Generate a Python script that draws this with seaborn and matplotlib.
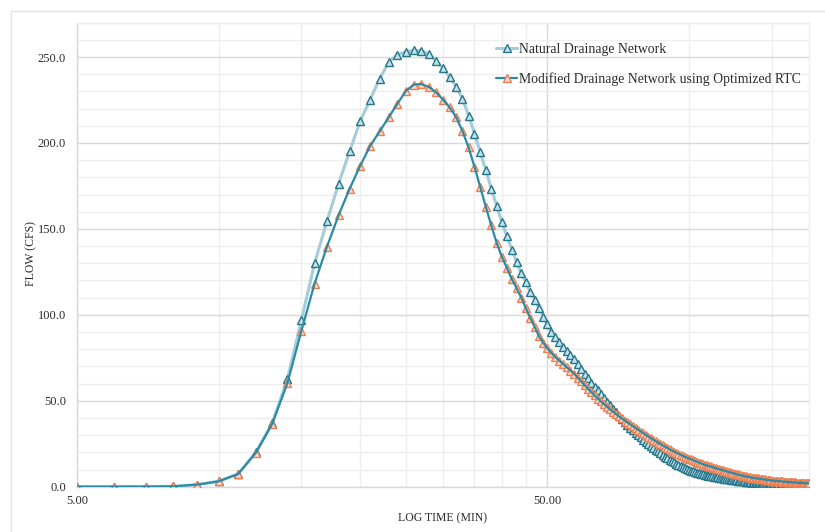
import numpy as np
import matplotlib
matplotlib.use("Agg")
import matplotlib.pyplot as plt
import seaborn as sns
from matplotlib.lines import Line2D
from matplotlib.patches import Rectangle
from matplotlib.ticker import FixedLocator, NullFormatter

# ============================================
# Data (1-minute steps)
# ============================================
minutes = list(range(5, 181))

natural = [
    0.0, 0.0, 0.05, 0.2, 1.2, 3.2, 7.5, 20.0, 37.0, 62.5,            # 5-14
    97.0, 130.0, 154.5, 176.4, 195.3, 212.6, 225.3, 237.4, 247.0, 251.3,  # 15-24
    253.1, 253.9, 253.7, 251.7, 247.9, 243.4, 238.2, 232.8, 225.8, 216.0,  # 25-34
    205.5, 194.5, 184.1, 173.5, 163.5, 154.1, 146.0, 138.0, 130.5, 124.1,  # 35-44
    118.9, 113.4, 108.6, 103.7, 98.9, 94.4, 90.0, 87.0, 84.0, 81.2,        # 45-54
    78.8, 76.6, 74.3, 71.4, 68.5, 65.4, 63.0, 60.6, 58.3, 56.0,            # 55-64
    53.7, 51.5, 49.4, 47.3, 45.3, 43.3, 41.3, 39.4, 37.6, 35.9,            # 65-74
    34.3, 32.8, 31.4, 30.0, 28.7, 27.4, 26.1, 24.9, 23.7, 22.6,            # 75-84
    21.5, 20.5, 19.4, 18.4, 17.5, 16.6, 15.7, 14.9, 14.1, 13.4,            # 85-94
    12.7, 12.0, 11.4, 10.8, 10.3, 9.8, 9.4, 9.0, 8.6, 8.2,                 # 95-104
    7.8, 7.5, 7.2, 6.9, 6.6, 6.4, 6.2, 6.0, 5.8, 5.6,                      # 105-114
    5.4, 5.2, 5.0, 4.85, 4.7, 4.55, 4.4, 4.25, 4.1, 4.0,                   # 115-124
    3.85, 3.7, 3.6, 3.5, 3.35, 3.2, 3.05, 2.9, 2.8, 2.65,                  # 125-134
    2.55, 2.4, 2.3, 2.2, 2.1, 2.05, 2.0, 1.95, 1.9, 1.85,                  # 135-144
    1.8, 1.7, 1.65, 1.6, 1.5, 1.45, 1.4, 1.35, 1.3, 1.25,                  # 145-154
    1.2, 1.15, 1.1, 1.05, 1.0, 0.97, 0.93, 0.9, 0.86, 0.83,                # 155-164
    0.8, 0.77, 0.74, 0.71, 0.68, 0.65, 0.62, 0.59, 0.56, 0.53,             # 165-174
    0.5, 0.47, 0.44, 0.41, 0.38, 0.35,                                     # 175-180
]

modified = [
    0.0, 0.0, 0.05, 0.2, 1.2, 3.1, 7.3, 19.7, 36.5, 60.1,             # 5-14
    90.7, 118.2, 139.7, 158.0, 173.5, 186.7, 198.3, 206.8, 214.9, 222.9,  # 15-24
    230.2, 234.0, 234.3, 232.6, 229.5, 225.2, 220.7, 215.0, 206.9, 197.4,  # 25-34
    186.2, 174.3, 162.8, 152.0, 142.0, 133.9, 127.5, 120.9, 115.6, 110.0,  # 35-44
    104.0, 98.0, 93.0, 87.5, 83.8, 80.5, 77.8, 75.4, 73.4, 71.4,           # 45-54
    69.5, 67.6, 65.7, 63.5, 61.3, 59.1, 57.0, 55.0, 53.1, 51.3,            # 55-64
    49.6, 48.0, 46.5, 45.0, 43.6, 42.2, 40.9, 39.7, 38.5, 37.4,            # 65-74
    36.3, 35.2, 34.1, 33.1, 32.1, 31.1, 30.1, 29.1, 28.2, 27.3,            # 75-84
    26.4, 25.6, 24.8, 24.0, 23.2, 22.5, 21.8, 21.0, 20.4, 19.8,            # 85-94
    19.2, 18.6, 18.0, 17.4, 16.9, 16.4, 15.9, 15.4, 15.0, 14.5,            # 95-104
    14.0, 13.6, 13.2, 12.8, 12.4, 12.1, 11.8, 11.5, 11.1, 10.8,            # 105-114
    10.5, 10.2, 9.9, 9.6, 9.3, 9.0, 8.7, 8.4, 8.2, 7.9,                    # 115-124
    7.6, 7.3, 7.1, 6.8, 6.6, 6.4, 6.2, 6.0, 5.8, 5.6,                      # 125-134
    5.4, 5.3, 5.1, 5.0, 4.9, 4.8, 4.7, 4.55, 4.4, 4.3,                     # 135-144
    4.2, 4.05, 3.9, 3.8, 3.7, 3.6, 3.5, 3.45, 3.4, 3.3,                    # 145-154
    3.25, 3.2, 3.1, 3.05, 3.0, 2.9, 2.85, 2.8, 2.7, 2.65,                  # 155-164
    2.6, 2.55, 2.5, 2.45, 2.4, 2.35, 2.3, 2.25, 2.2, 2.15,                 # 165-174
    2.1, 2.05, 2.0, 2.0, 1.95, 1.9,                                        # 175-180
]

labels = ["Natural Drainage Network", "Modified Drainage Network using Optimized RTC"]
x_major = [5, 50]
x_major_labels = ["5.00", "50.00"]
x_minor = [10, 15, 20, 25, 30, 35, 40, 45, 100, 150]

# ============================================
# Style
# ============================================
sns.set_theme(style="white")
plt.rcParams["font.family"] = ["Liberation Serif", "DejaVu Serif"]

nat_line = "#a3cdd8"
nat_edge = "#25768c"
nat_face = "#c4e1e8"
mod_line = "#2a8ba7"
mod_edge = "#ec7e50"
mod_face = "#fbd6c5"
major_grid = "#d9d9d9"
minor_grid = "#eeeeee"
text_col = "#2b2b2b"
msize = 5.6

fig = plt.figure(figsize=(8.25, 5.32), dpi=100)
ax = fig.add_axes([77 / 825, 1 - 486.7 / 532, (809 - 77) / 825, (486.7 - 22.7) / 532])

# outer chart-area frame
fig.patches.append(Rectangle((11 / 825, -0.01), 1.0, 1 - 10.7 / 532 + 0.01,
                             transform=fig.transFigure, fill=False,
                             edgecolor="#e4e4e4", linewidth=1.0, zorder=0))

# ============================================
# Series
# ============================================
sns.lineplot(x=minutes, y=natural, ax=ax, color=nat_line, linewidth=2.2, zorder=2)
sns.lineplot(x=minutes, y=natural, ax=ax, color=nat_edge, linestyle="", marker="^",
             markersize=msize, markerfacecolor=nat_face, markeredgecolor=nat_edge,
             markeredgewidth=1.0, zorder=3)
sns.lineplot(x=minutes, y=modified, ax=ax, color=mod_edge, linestyle="", marker="^",
             markersize=msize, markerfacecolor=mod_face, markeredgecolor=mod_edge,
             markeredgewidth=1.0, zorder=4)
sns.lineplot(x=minutes, y=modified, ax=ax, color=mod_line, linewidth=1.6, zorder=5)

# ============================================
# Axes
# ============================================
ax.set_xscale("log")
ax.set_xlim(5, 180)
ax.set_ylim(0, 270)
ax.xaxis.set_major_locator(FixedLocator(x_major))
ax.set_xticklabels(x_major_labels)
ax.xaxis.set_minor_locator(FixedLocator(x_minor))
ax.xaxis.set_minor_formatter(NullFormatter())
ax.set_yticks(np.arange(0, 251, 50))
ax.set_yticklabels([f"{v:.1f}" for v in np.arange(0, 251, 50)])
ax.yaxis.set_minor_locator(FixedLocator(np.arange(10, 271, 10)))

ax.grid(which="major", color=major_grid, linewidth=1.0, zorder=0)
ax.grid(which="minor", color=minor_grid, linewidth=1.0, zorder=0)
ax.set_axisbelow(True)
ax.tick_params(which="both", length=0)
ax.tick_params(axis="x", pad=6, labelsize=9, labelcolor=text_col)
ax.tick_params(axis="y", pad=8, labelsize=9, labelcolor=text_col)
for side in ["left", "bottom"]:
    ax.spines[side].set_color(major_grid)
for side in ["top", "right"]:
    ax.spines[side].set_color(minor_grid)
for sp in ax.spines.values():
    sp.set_linewidth(1.0)

ax.set_xlabel("")
ax.set_ylabel("")
fig.text(31 / 825, 1 - 254 / 532, "FLOW (CFS)", rotation=90, ha="center", va="center",
         fontsize=8.5, color=text_col)
fig.text(442 / 825, 1 - 518 / 532, "LOG TIME (MIN)", ha="center", va="center",
         fontsize=8.5, color=text_col)

handles = [
    Line2D([], [], color=nat_line, linewidth=2.2, marker="^", markersize=msize,
           markerfacecolor=nat_face, markeredgecolor=nat_edge, markeredgewidth=1.0),
    Line2D([], [], color=mod_line, linewidth=1.6, marker="^", markersize=msize,
           markerfacecolor=mod_face, markeredgecolor=mod_edge, markeredgewidth=1.0),
]
fig.legend(handles, labels, loc="upper left", bbox_to_anchor=(489 / 825, 1 - 36 / 532),
           frameon=False, fontsize=9.9, handlelength=1.55, handletextpad=0.15,
           labelspacing=1.18, borderpad=0, labelcolor=text_col)

plt.savefig("out.png", dpi=100)
